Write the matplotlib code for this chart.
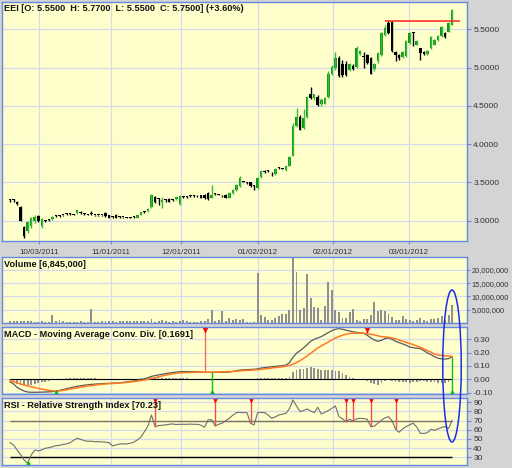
import matplotlib
matplotlib.use('Agg')
import matplotlib.pyplot as plt
from matplotlib.patches import Ellipse
import numpy as np

plt.rcParams['font.family'] = ['Liberation Sans', 'DejaVu Sans']

# ---- data ----
opens = [3.27, 3.27, 3.25, 3.18, 2.92, 2.86, 2.93, 2.99, 3.06, 2.93,
         3.00, 3.01, 3.02, 3.06, 3.06, 3.07, 3.09, 3.09, 3.08, 3.10,
         3.12, 3.09, 3.08, 3.09, 3.07, 3.07, 3.08, 3.10, 3.07, 3.05,
         3.08, 3.05, 3.05, 3.04, 3.04, 3.05, 3.04, 3.08, 3.12, 3.13,
         3.18, 3.31, 3.28, 3.24, 3.27, 3.28, 3.27, 3.28, 3.22, 3.31,
         3.31, 3.32, 3.32, 3.33, 3.33, 3.34, 3.36, 3.30, 3.35, 3.34,
         3.33, 3.34, 3.30, 3.36, 3.40, 3.45, 3.51, 3.49, 3.50, 3.45,
         3.43, 3.57, 3.64, 3.65, 3.63, 3.61, 3.69, 3.68, 3.66, 3.72,
         3.85, 4.24, 4.35, 4.21, 4.35, 4.66, 4.60, 4.62, 4.52, 4.53,
         4.62, 4.92, 4.99, 5.12, 5.05, 5.05, 4.97, 5.02, 5.01, 5.18,
         5.15, 5.16, 5.12, 4.98, 5.08, 5.16, 5.42, 5.58, 5.60, 5.20,
         5.17, 5.14, 5.15, 5.32, 5.45, 5.30, 5.25, 5.20, 5.18, 5.25,
         5.30, 5.36, 5.41, 5.45, 5.47, 5.55]
highs = [3.28, 3.28, 3.26, 3.19, 2.93, 2.99, 3.05, 3.07, 3.07, 3.03,
         3.01, 3.02, 3.06, 3.07, 3.07, 3.07, 3.10, 3.10, 3.09, 3.14,
         3.13, 3.10, 3.09, 3.13, 3.08, 3.08, 3.08, 3.11, 3.08, 3.06,
         3.09, 3.06, 3.05, 3.05, 3.05, 3.06, 3.08, 3.12, 3.13, 3.16,
         3.35, 3.32, 3.29, 3.31, 3.28, 3.29, 3.28, 3.31, 3.33, 3.32,
         3.32, 3.33, 3.33, 3.34, 3.34, 3.35, 3.37, 3.47, 3.36, 3.35,
         3.34, 3.35, 3.37, 3.41, 3.48, 3.58, 3.52, 3.50, 3.51, 3.46,
         3.57, 3.66, 3.66, 3.66, 3.64, 3.69, 3.70, 3.69, 3.72, 3.85,
         4.27, 4.47, 4.38, 4.46, 4.63, 4.75, 4.66, 4.64, 4.60, 4.62,
         4.95, 5.03, 5.20, 5.15, 5.10, 5.08, 5.06, 5.04, 5.28, 5.23,
         5.20, 5.18, 5.14, 5.06, 5.20, 5.47, 5.56, 5.61, 5.61, 5.22,
         5.18, 5.22, 5.36, 5.47, 5.46, 5.36, 5.26, 5.21, 5.23, 5.41,
         5.37, 5.42, 5.54, 5.46, 5.59, 5.77]
lows = [3.25, 3.25, 3.21, 2.99, 2.78, 2.84, 2.91, 2.97, 2.98, 2.91,
        2.98, 3.00, 3.01, 3.05, 3.05, 3.06, 3.07, 3.08, 3.07, 3.09,
        3.09, 3.08, 3.07, 3.07, 3.06, 3.06, 3.06, 3.05, 3.04, 3.04,
        3.04, 3.04, 3.04, 3.04, 3.03, 3.04, 3.03, 3.07, 3.10, 3.12,
        3.17, 3.23, 3.20, 3.17, 3.25, 3.24, 3.26, 3.27, 3.21, 3.30,
        3.29, 3.31, 3.31, 3.31, 3.29, 3.28, 3.27, 3.29, 3.33, 3.33,
        3.31, 3.29, 3.29, 3.35, 3.39, 3.44, 3.50, 3.48, 3.44, 3.40,
        3.42, 3.56, 3.62, 3.64, 3.58, 3.60, 3.67, 3.67, 3.65, 3.71,
        3.84, 4.22, 4.18, 4.20, 4.34, 4.59, 4.58, 4.50, 4.50, 4.52,
        4.60, 4.90, 4.97, 4.88, 4.88, 4.89, 4.95, 4.97, 5.00, 5.16,
        5.00, 5.04, 4.91, 4.96, 5.06, 5.15, 5.41, 5.44, 5.20, 5.08,
        5.10, 5.12, 5.14, 5.31, 5.28, 5.29, 5.10, 5.16, 5.17, 5.24,
        5.29, 5.35, 5.40, 5.39, 5.46, 5.55]
closes = [3.27, 3.27, 3.22, 3.00, 2.80, 2.98, 3.04, 3.05, 2.99, 3.02,
          3.00, 3.01, 3.05, 3.06, 3.06, 3.07, 3.09, 3.09, 3.08, 3.14,
          3.10, 3.09, 3.08, 3.09, 3.07, 3.07, 3.07, 3.06, 3.04, 3.05,
          3.04, 3.05, 3.05, 3.04, 3.04, 3.05, 3.08, 3.11, 3.12, 3.15,
          3.33, 3.24, 3.28, 3.27, 3.27, 3.25, 3.27, 3.31, 3.32, 3.31,
          3.31, 3.32, 3.32, 3.33, 3.30, 3.29, 3.28, 3.34, 3.35, 3.34,
          3.33, 3.30, 3.36, 3.40, 3.47, 3.56, 3.51, 3.49, 3.45, 3.45,
          3.56, 3.65, 3.64, 3.65, 3.63, 3.68, 3.69, 3.68, 3.71, 3.83,
          4.24, 4.35, 4.19, 4.34, 4.62, 4.60, 4.65, 4.51, 4.58, 4.60,
          4.92, 5.01, 5.13, 4.89, 4.90, 4.90, 5.05, 4.98, 5.26, 5.22,
          5.14, 5.06, 4.92, 5.05, 5.19, 5.45, 5.51, 5.45, 5.21, 5.16,
          5.13, 5.20, 5.35, 5.45, 5.45, 5.35, 5.19, 5.18, 5.22, 5.40,
          5.36, 5.41, 5.53, 5.40, 5.58, 5.75]

# volume in millions
volume = [0.7, 0.6, 0.7, 0.8, 0.7, 0.6, 0.7, 0.3, 0.2, 0.6,
          0.2, 0.2, 2.9, 0.7, 1.0, 0.7, 0.2, 0.2, 0.3, 0.3,
          0.8, 0.2, 0.3, 5.4, 0.5, 0.2, 0.6, 0.6, 0.6, 0.6,
          0.2, 0.6, 0.6, 0.6, 0.6, 0.7, 0.8, 0.9, 0.7, 0.9,
          1.5, 0.4, 0.7, 1.2, 0.8, 0.3, 0.6, 0.2, 0.8, 1.2,
          0.7, 0.2, 0.3, 0.2, 0.7, 0.8, 1.5, 5.0, 0.7, 1.0,
          4.4, 0.8, 2.0, 1.3, 1.4, 1.0, 1.4, 0.3, 0.2, 0.3,
          18.7, 2.9, 2.3, 1.3, 1.1, 1.9, 2.7, 3.4, 3.4, 5.0,
          24.4, 19.1, 4.8, 5.6, 18.5, 9.4, 5.9, 5.6, 1.3, 6.5,
          15.4, 12.5, 4.8, 4.0, 1.8, 1.9, 4.1, 5.4, 1.0, 0.9,
          1.5, 1.5, 2.9, 8.0, 4.4, 5.0, 4.4, 3.4, 2.1, 1.0,
          1.3, 2.5, 1.6, 1.0, 0.9, 1.0, 1.9, 1.0, 0.9, 1.6,
          1.6, 1.9, 2.5, 1.0, 3.2, 6.845]

macd = [-0.018, -0.035, -0.060, -0.075, -0.088, -0.095, -0.097, -0.097, -0.097, -0.096,
        -0.095, -0.094, -0.092, -0.089, -0.083, -0.077, -0.070, -0.064, -0.058, -0.052,
        -0.048, -0.044, -0.041, -0.038, -0.036, -0.034, -0.032, -0.031, -0.030, -0.029,
        -0.028, -0.026, -0.023, -0.020, -0.016, -0.012, -0.007, -0.002, 0.004, 0.012,
        0.022, 0.028, 0.033, 0.038, 0.043, 0.047, 0.051, 0.054, 0.057, 0.058,
        0.058, 0.058, 0.057, 0.056, 0.055, 0.053, 0.052, 0.053, 0.053, 0.053,
        0.053, 0.053, 0.055, 0.059, 0.064, 0.069, 0.071, 0.073, 0.074, 0.075,
        0.079, 0.084, 0.088, 0.091, 0.094, 0.097, 0.100, 0.102, 0.106, 0.125,
        0.165, 0.195, 0.215, 0.235, 0.260, 0.285, 0.300, 0.310, 0.320, 0.335,
        0.350, 0.365, 0.375, 0.380, 0.375, 0.368, 0.362, 0.356, 0.352, 0.348,
        0.345, 0.330, 0.310, 0.295, 0.285, 0.292, 0.305, 0.310, 0.300, 0.285,
        0.275, 0.265, 0.255, 0.242, 0.237, 0.233, 0.230, 0.215, 0.198, 0.185,
        0.170, 0.158, 0.153, 0.152, 0.155, 0.1691]
signal = [-0.010, -0.018, -0.027, -0.035, -0.043, -0.050, -0.055, -0.062, -0.068, -0.073,
          -0.078, -0.082, -0.086, -0.088, -0.087, -0.083, -0.078, -0.073, -0.068, -0.064,
          -0.058, -0.054, -0.050, -0.047, -0.044, -0.040, -0.037, -0.035, -0.033, -0.031,
          -0.030, -0.028, -0.026, -0.023, -0.020, -0.017, -0.013, -0.010, -0.005, 0.000,
          0.006, 0.012, 0.018, 0.025, 0.032, 0.037, 0.041, 0.045, 0.048, 0.050,
          0.051, 0.052, 0.053, 0.053, 0.053, 0.053, 0.053, 0.053, 0.054, 0.055,
          0.056, 0.057, 0.058, 0.059, 0.061, 0.063, 0.065, 0.067, 0.068, 0.070,
          0.072, 0.075, 0.078, 0.081, 0.085, 0.088, 0.091, 0.094, 0.098, 0.104,
          0.113, 0.125, 0.140, 0.157, 0.175, 0.195, 0.215, 0.235, 0.250, 0.265,
          0.280, 0.295, 0.310, 0.320, 0.330, 0.338, 0.343, 0.345, 0.346, 0.346,
          0.345, 0.342, 0.338, 0.333, 0.326, 0.320, 0.317, 0.315, 0.310, 0.303,
          0.294, 0.285, 0.277, 0.268, 0.260, 0.250, 0.240, 0.228, 0.215, 0.203,
          0.190, 0.182, 0.178, 0.176, 0.174, 0.172]

rsi = [46.0, 43.5, 38.0, 33.0, 27.0, 23.5, 32.6, 38.0, 37.0, 38.0,
       39.9, 40.5, 41.5, 42.7, 43.0, 44.0, 44.6, 46.0, 48.5, 50.8,
       49.5, 48.2, 47.5, 47.5, 47.0, 47.1, 46.8, 46.5, 46.0, 42.4,
       43.5, 44.6, 44.6, 44.6, 45.4, 46.5, 49.0, 52.0, 58.0, 64.0,
       76.2, 63.5, 64.6, 65.0, 65.3, 66.0, 66.4, 65.8, 66.0, 66.0,
       66.0, 66.2, 66.0, 66.0, 65.0, 62.8, 70.8, 71.0, 64.2, 66.0,
       67.2, 70.0, 72.6, 76.0, 78.7, 79.0, 78.7, 78.7, 67.2, 65.3,
       78.7, 79.0, 78.7, 76.0, 72.6, 74.0, 76.2, 77.0, 78.0, 83.0,
       92.6, 86.0, 79.8, 81.0, 82.7, 80.5, 78.7, 84.6, 77.3, 79.0,
       81.0, 83.5, 86.0, 74.4, 72.0, 69.0, 71.5, 69.5, 72.0, 72.6,
       72.2, 71.5, 63.5, 64.0, 67.2, 70.5, 73.0, 74.4, 70.0, 60.6,
       57.3, 61.0, 63.5, 65.5, 67.2, 63.0, 56.2, 56.0, 56.9, 60.6,
       59.5, 61.0, 62.5, 63.5, 61.5, 70.23]

macd_sell = [55, 101]
macd_buy = [13, 57, 125]
rsi_sell = [41, 58, 68, 95, 97, 102, 109]
rsi_buy = [5]

resist_level = 5.61
resist_span = [106, 127.3]

date_pos = [8.29, 28.56, 48.36, 70.14, 91.35, 112.84]
date_labels = ['10/03/2011', '11/01/2011', '12/01/2011', '01/02/2012', '02/01/2012', '03/01/2012']

title_main = 'EEI [O: 5.5500  H: 5.7700  L: 5.5500  C: 5.7500] (+3.60%)'
title_vol = 'Volume [6,845,000]'
title_macd = 'MACD - Moving Average Conv. Div. [0.1691]'
title_rsi = 'RSI - Relative Strength Index [70.23]'

# ---- style ----
BG = '#d4d4d4'
PANEL = '#ffffcc'
BORDER = '#6688dd'
GRID = '#d6d9ea'
TXT = '#333333'

W, H = 512, 468
fig = plt.figure(figsize=(W / 100, H / 100), dpi=100, facecolor=BG)

def panel(top, bottom):
    ax = fig.add_axes([2 / W, 1 - bottom / H, 465 / W, (bottom - top) / H])
    ax.set_facecolor(PANEL)
    for s in ax.spines.values():
        s.set_color(BORDER)
        s.set_linewidth(1)
    ax.set_xlim(-2.26, 129.2)
    ax.set_xticks(date_pos)
    ax.grid(color=GRID, lw=0.9)
    ax.set_axisbelow(True)
    ax.yaxis.tick_right()
    ax.tick_params(axis='y', colors=BORDER, labelcolor=TXT, labelsize=6, length=3, pad=1.5)
    ax.tick_params(axis='x', length=0, labelbottom=False)
    return ax

idx = np.arange(len(closes))
o = np.array(opens); c = np.array(closes); h = np.array(highs); l = np.array(lows)
up = c > o

# main price panel
ax = panel(2, 241)
ax.set_ylim(2.735, 5.856)
ax.set_yticks([3.0, 3.5, 4.0, 4.5, 5.0, 5.5])
ax.set_yticklabels(['%.4f' % v for v in [3.0, 3.5, 4.0, 4.5, 5.0, 5.5]])
cols = np.where(up, '#109a10', '#000000')
wick = np.where(up, '#3cb83c', '#000000')
ax.vlines(idx, l, h, colors=wick, lw=1)
body = np.maximum(np.abs(c - o), 0.012)
ax.bar(idx, body, bottom=np.minimum(o, c), width=0.72, color=cols, lw=0)
ax.hlines(resist_level, resist_span[0], resist_span[1], colors='#ff2020', lw=1.1)
ax.set_xticklabels(date_labels)
ax.tick_params(axis='x', labelbottom=True, labelsize=5.8, labelcolor=TXT, pad=4,
               length=2, colors=BORDER)
ax.text(0.004, 0.992, title_main, transform=ax.transAxes, ha='left', va='top',
        fontsize=6.6, fontweight='bold', color='#111111')

# volume panel
axv = panel(257, 323)
axv.set_ylim(0, 24.9)
axv.bar(idx, volume, width=0.55, color='#8f8f8f', lw=0)
vt = [5, 10, 15, 20]
axv.set_yticks(vt)
axv.set_yticklabels(['{:,}'.format(v * 1000000) for v in vt])
axv.tick_params(axis='y', labelsize=5.4, pad=1, length=2.5)
axv.text(0.004, 0.96, title_vol, transform=axv.transAxes, ha='left', va='top',
         fontsize=6.6, fontweight='bold', color='#111111')

# MACD panel
axm = panel(327, 394)
axm.set_ylim(-0.110, 0.392)
m = np.array(macd); s = np.array(signal)
axm.bar(idx, m - s, width=0.5, color='#8f8f8f', lw=0)
axm.hlines(0, idx[0], idx[-1], colors='#000000', lw=0.8)
axm.plot(idx, m, color='#5a5a5a', lw=0.9)
axm.plot(idx, s, color='#ff7a20', lw=1.1)
mt = [-0.1, 0.0, 0.1, 0.2, 0.3]
axm.set_yticks(mt)
axm.set_yticklabels(['%.2f' % v for v in mt])
for i in macd_sell:
    axm.vlines(i, s[i], 0.392, colors='#f07060', lw=1)
    axm.plot(i, 0.372, marker='v', color='#ff0000', ms=4.5, mec='none')
for i in macd_buy:
    axm.vlines(i, -0.110, m[i], colors='#10c010', lw=1)
    axm.plot(i, -0.092, marker='^', color='#00c000', ms=4.5, mec='none')
axm.text(0.004, 0.96, title_macd, transform=axm.transAxes, ha='left', va='top',
         fontsize=6.6, fontweight='bold', color='#111111')

# RSI panel
axr = panel(398, 465)
axr.set_ylim(21.6, 94.7)
r = np.array(rsi)
axr.hlines(70, idx[0], idx[-1], colors='#7a7560', lw=1)
axr.hlines(30, idx[0], idx[-1], colors='#000000', lw=1)
axr.plot(idx, r, color='#6e6e6e', lw=0.8)
rt = [30, 40, 50, 60, 70, 80, 90]
axr.set_yticks(rt)
axr.set_yticklabels([str(v) for v in rt])
for i in rsi_sell:
    axr.vlines(i, r[i], 94.7, colors='#f05050', lw=1)
    axr.plot(i, 92.0, marker='v', color='#ff0000', ms=4.5, mec='none')
for i in rsi_buy:
    axr.vlines(i, 21.6, r[i], colors='#10c010', lw=1)
    axr.plot(i, 24.0, marker='^', color='#00c000', ms=4.5, mec='none')
axr.text(0.004, 0.96, title_rsi, transform=axr.transAxes, ha='left', va='top',
         fontsize=6.6, fontweight='bold', color='#111111')

# hand-drawn style ellipse around the last bar
fig.add_artist(Ellipse((452 / W, 1 - 366 / H), 18.5 / W, 152 / H, transform=fig.transFigure,
                       fill=False, edgecolor='#1a2ee8', lw=1.1, zorder=20))

fig.savefig('out.png', dpi=100, facecolor=BG)
